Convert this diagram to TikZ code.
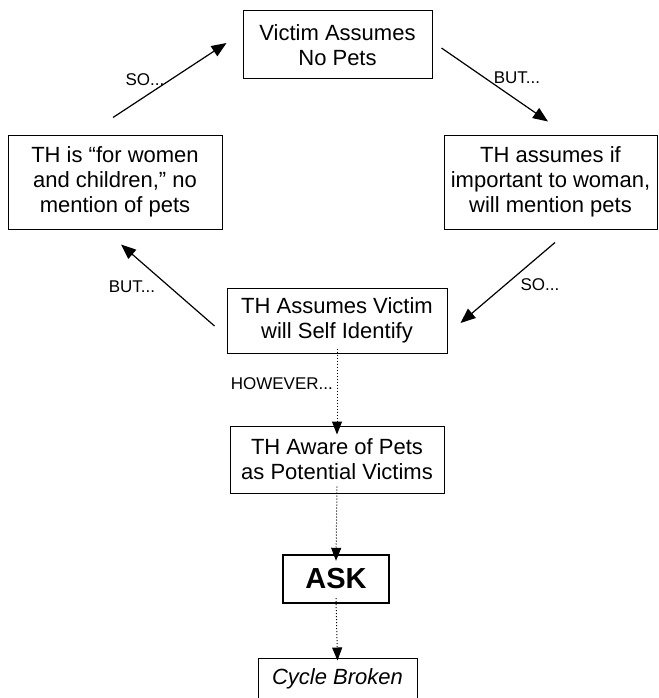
\documentclass[tikz,border=0pt]{standalone}
\usepackage{fontspec}
\setmainfont{Liberation Sans}
\usetikzlibrary{arrows.meta}
\tikzset{%
	box/.style = {draw,line width=1pt,align=center,inner sep=0,font=\fontsize{22}{25}\selectfont},
	link/.style = {line width=1.2pt,-{Triangle[length=15pt,width=12pt]}},
	dotlink/.style = {line width=1pt,dotted,-{Triangle[length=13pt,width=10pt]}},
	cue/.style = {inner sep=0,font=\fontsize{17}{19}\selectfont}%
}

\begin{document}
\begin{tikzpicture}[x=1pt,y=-1pt]
		\useasboundingbox (0,0) rectangle (658,698);
		\clip (0,0) rectangle (658,698);
		
		\node(top)[box,minimum width=189,minimum height=68]at(337.5,45){Victim Assumes\\No Pets};
		\node(left)[box,minimum width=214,minimum height=94]at(115,182){TH is “for women\\and children,” no\\mention of pets};
		\node(right)[box,minimum width=213,minimum height=94]at(550.5,182){TH assumes if\\important to woman,\\will mention pets};
		\node(mid)[box,minimum width=220,minimum height=65]at(337,320.5){TH Assumes Victim\\will Self Identify};
		\node(aware)[box,minimum width=214,minimum height=67]at(337,459.5){TH Aware of Pets\\as Potential Victims};
		\node(ask)[box,line width=2.4pt,minimum width=106,minimum height=48,font=\fontsize{29}{32}\selectfont\bfseries]at(336,579){ASK};
		\node(cycle)[box,minimum width=159,minimum height=42,font=\fontsize{22}{25}\selectfont\itshape]at(337.5,679){Cycle Broken};
		
		% the cycle
		\draw[link]([shift={(-2,-17)}]left.north)--([shift={(-16,-2)}]top.west);
		\draw[link]([shift={(9,3)}]top.east)--([shift={(-2.5,-13)}]right.north);
		\draw[link]([shift={(4.5,13)}]right.south)--([shift={(13,2.5)}]mid.east);
		\draw[link]([shift={(-12,5.5)}]mid.west)--([shift={(6,15)}]left.south);
		\node[cue]at(145,80){SO...};
		\node[cue]at(517,78){BUT...};
		\node[cue]at(540,285){SO...};
		\node[cue]at(132,287){BUT...};
		
		% way out
		\draw[dotlink]([yshift=5]mid.south)--([yshift=-9]aware.north);
		\draw[dotlink]([yshift=7]aware.south)--([yshift=-7]ask.north);
		\draw[dotlink]([yshift=6]ask.south)--([yshift=-3]cycle.north);
		\node[cue,anchor=east]at(333,384){HOWEVER...};
\end{tikzpicture}
\end{document}
